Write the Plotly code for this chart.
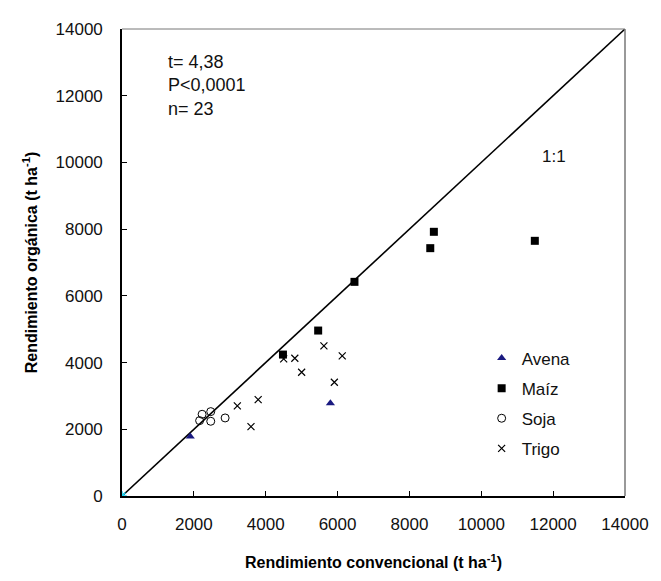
import plotly.graph_objects as go

# Data (t ha^-1)
avena_x = [1900, 5800]
avena_y = [1780, 2780]
maiz_x = [4480, 5460, 6470, 8580, 8680, 11490]
maiz_y = [4240, 4960, 6420, 7430, 7920, 7650]
soja_x = [2160, 2230, 2470, 2470, 2870]
soja_y = [2260, 2450, 2530, 2240, 2340]
trigo_x = [3210, 3590, 3790, 4500, 4810, 5000, 5620, 5910, 6130]
trigo_y = [2700, 2080, 2890, 4110, 4130, 3710, 4500, 3410, 4200]
origin_x = [0]
origin_y = [0]
line_x = [0, 14000]
line_y = [0, 14000]
tick_vals = [0, 2000, 4000, 6000, 8000, 10000, 12000, 14000]
tick_text = [str(v) for v in tick_vals]

FONT = "Liberation Sans, Arial, sans-serif"

fig = go.Figure()
fig.add_trace(go.Scatter(x=line_x, y=line_y, mode="lines",
                         line=dict(color="black", width=1.6), showlegend=False,
                         hoverinfo="skip"))
fig.add_trace(go.Scatter(x=avena_x, y=avena_y, mode="markers", name="Avena",
                         legendgroup="a",
                         marker=dict(symbol="triangle-up", size=8, color="#1a1a80")))
fig.add_trace(go.Scatter(x=maiz_x, y=maiz_y, mode="markers", name="Maíz",
                         legendgroup="m",
                         marker=dict(symbol="square", size=8, color="black")))
fig.add_trace(go.Scatter(x=soja_x, y=soja_y, mode="markers", name="Soja",
                         legendgroup="s",
                         marker=dict(symbol="circle-open", size=8, color="black",
                                     line=dict(width=1))))
fig.add_trace(go.Scatter(x=trigo_x, y=trigo_y, mode="markers", name="Trigo",
                         legendgroup="t",
                         marker=dict(symbol="x-thin-open", size=7, color="black",
                                     line=dict(width=1.2, color="#222"))))
fig.add_trace(go.Scatter(x=origin_x, y=origin_y, mode="markers", showlegend=False,
                         marker=dict(symbol="asterisk-open", size=8,
                                     line=dict(width=1.5, color="#c040c0"))))

axis_common = dict(range=[0, 14000], tickvals=tick_vals, ticktext=tick_text,
                   showgrid=False, zeroline=False, showline=True,
                   linecolor="black", linewidth=1.6, ticks="inside",
                   ticklen=5, tickcolor="black", tickwidth=1,
                   tickfont=dict(family=FONT, size=17, color="#111"))

fig.update_xaxes(**axis_common, ticklabelstandoff=12,
                 title=dict(text="<b>Rendimiento convencional (t ha<sup>-1</sup>)</b>",
                            font=dict(family=FONT, size=16, color="black"),
                            standoff=24))
fig.update_yaxes(**axis_common, ticklabelstandoff=14,
                 title=dict(text="<b>Rendimiento orgánica (t ha<sup>-1</sup>)</b>",
                            font=dict(family=FONT, size=16, color="black"),
                            standoff=14))

# top and right frame (grey, thinner)
fig.add_shape(type="line", xref="paper", yref="paper", x0=0, x1=1, y0=1, y1=1,
              line=dict(color="#777", width=1))
fig.add_shape(type="line", xref="paper", yref="paper", x0=1, x1=1, y0=0, y1=1,
              line=dict(color="#777", width=1.5))

fig.add_annotation(x=0.088, y=0.955, xref="paper", yref="paper",
                   xanchor="left", yanchor="top", align="left", showarrow=False,
                   text="t= 4,38<br>P<0,0001<br>n= 23",
                   font=dict(family=FONT, size=18, color="#111"))
fig.add_annotation(x=12020, y=10180, showarrow=False, text="1:1",
                   font=dict(family=FONT, size=17, color="#111"))

fig.update_layout(
    width=653, height=573,
    margin=dict(l=114, r=29, t=16, b=79),
    plot_bgcolor="white", paper_bgcolor="white",
    legend=dict(x=0.715, y=0.333, xanchor="left", yanchor="top",
                bgcolor="rgba(0,0,0,0)", tracegroupgap=5,
                font=dict(family=FONT, size=17, color="#111"),
                itemwidth=30),
)

fig.write_html("out.html")
